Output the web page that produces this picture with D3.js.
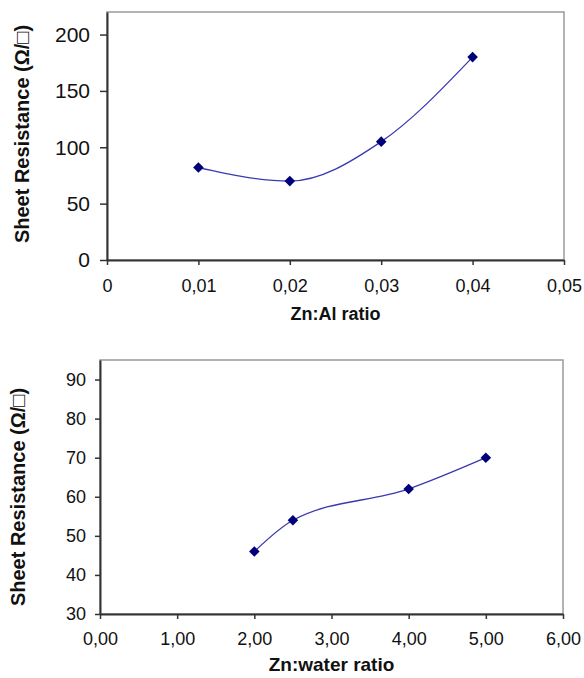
<!DOCTYPE html>
<html>
<head>
<meta charset="utf-8">
<script src="https://cdn.jsdelivr.net/npm/d3@7"></script>
<style>
  body { margin: 0; background: #fff; }
  text { font-family: "Liberation Sans", Arial, sans-serif; }
</style>
</head>
<body>
<div id="vis"></div>
<script>
// top chart data
var alRatio = [0.01, 0.02, 0.03, 0.04];
var alResistance = [82, 70, 105, 180];
var alXTicks = [0, 0.01, 0.02, 0.03, 0.04, 0.05];
var alYTicks = [0, 50, 100, 150, 200];

// bottom chart data
var waterRatio = [2.0, 2.5, 4.0, 5.0];
var waterResistance = [46, 54, 62, 70];
var waterXTicks = [0, 1, 2, 3, 4, 5, 6];
var waterYTicks = [30, 40, 50, 60, 70, 80, 90];

var yTitle = "Sheet Resistance (\u03A9/\u25A1)";

var comma = d3.formatLocale({decimal: ",", thousands: ".", grouping: [3], currency: ["", ""]});

var svg = d3.select("#vis")
    .append("svg")
    .attr("width", 584)
    .attr("height", 678);

function draw_chart(opts){
    var g = svg.append("g");
    var x = d3.scaleLinear().domain(opts.xDomain).range([opts.left, opts.right]);
    var y = d3.scaleLinear().domain(opts.yDomain).range([opts.bottom, opts.top]);

    // grey frame (top + right)
    g.append("rect")
        .attr("x", opts.left).attr("y", opts.top)
        .attr("width", opts.right - opts.left)
        .attr("height", opts.bottom - opts.top)
        .attr("fill", "none")
        .attr("stroke", "#9a9a9a")
        .attr("stroke-width", 1.5);

    var xAxis = g.append("g")
        .attr("transform", "translate(0," + opts.bottom + ")")
        .call(d3.axisBottom(x).tickValues(opts.xTicks).tickFormat(opts.xFormat)
            .tickSizeInner(5).tickSizeOuter(0).tickPadding(opts.xPad));
    var yAxis = g.append("g")
        .attr("transform", "translate(" + opts.left + ",0)")
        .call(d3.axisLeft(y).tickValues(opts.yTicks)
            .tickSizeInner(opts.yTick).tickSizeOuter(0).tickPadding(opts.yPad));

    [xAxis, yAxis].forEach(function(a){
        a.select(".domain").attr("stroke", "#333").attr("stroke-width", 2);
        a.selectAll(".tick line").attr("stroke", "#333").attr("stroke-width", 1.5);
        a.selectAll("text").attr("fill", "#111");
    });
    xAxis.selectAll("text").attr("font-size", opts.xFont);
    yAxis.selectAll("text").attr("font-size", opts.yFont);

    var pts = opts.xs.map(function(d, i){ return [d, opts.ys[i]]; });

    var line = d3.line()
        .x(function(d){ return x(d[0]); })
        .y(function(d){ return y(d[1]); })
        .curve(d3.curveMonotoneX);

    g.append("path")
        .datum(pts)
        .attr("d", line)
        .attr("fill", "none")
        .attr("stroke", "#3a3ab0")
        .attr("stroke-width", 1.3);

    g.selectAll("path.mark")
        .data(pts)
        .enter()
        .append("path")
        .attr("class", "mark")
        .attr("d", d3.symbol(d3.symbolSquare, 56))
        .attr("fill", "#00007a")
        .attr("transform", function(d){
            return "translate(" + x(d[0]) + "," + y(d[1]) + ") rotate(45)";
        });

    g.append("text")
        .attr("x", (opts.left + opts.right) / 2)
        .attr("y", opts.xTitleY)
        .attr("text-anchor", "middle")
        .attr("font-weight", "bold")
        .attr("font-size", opts.xTitleSize)
        .attr("fill", "#111")
        .text(opts.xTitle);

    g.append("text")
        .attr("transform", "translate(" + opts.yTitleX + "," + opts.yTitleY + ") rotate(-90)")
        .attr("text-anchor", "middle")
        .attr("font-weight", "bold")
        .attr("font-size", 20)
        .attr("fill", "#111")
        .text(yTitle);
}

draw_chart({
    xs: alRatio, ys: alResistance,
    xDomain: [0, 0.05], yDomain: [0, 220],
    xTicks: alXTicks, yTicks: alYTicks,
    xFormat: function(d){ return d === 0 ? "0" : comma.format(".2f")(d); },
    left: 107, right: 564, top: 12, bottom: 260,
    xPad: 14, yPad: 10, yTick: 7, xFont: 18, yFont: 21,
    xTitle: "Zn:Al ratio", xTitleY: 320, xTitleSize: 18,
    yTitleX: 29, yTitleY: 134
});

draw_chart({
    xs: waterRatio, ys: waterResistance,
    xDomain: [0, 6], yDomain: [30, 95],
    xTicks: waterXTicks, yTicks: waterYTicks,
    xFormat: comma.format(".2f"),
    left: 100, right: 563, top: 360, bottom: 614,
    xPad: 13, yPad: 9, yTick: 5, xFont: 18, yFont: 18,
    xTitle: "Zn:water ratio", xTitleY: 671, xTitleSize: 19,
    yTitleX: 25, yTitleY: 497
});
</script>
</body>
</html>
